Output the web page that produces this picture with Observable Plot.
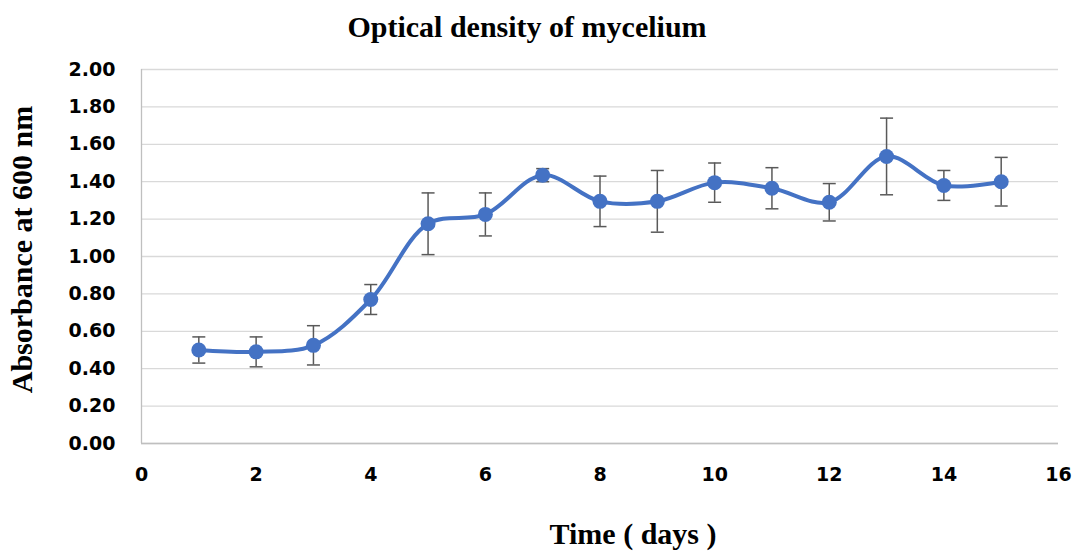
<!DOCTYPE html>
<html>
<head>
<meta charset="utf-8">
<script src="https://cdn.jsdelivr.net/npm/d3@7"></script>
<script src="https://cdn.jsdelivr.net/npm/@observablehq/plot@0.6"></script>
<style>
  body { margin: 0; background: #fff; }
  #wrap { width: 1079px; height: 552px; position: relative; overflow: hidden; }
  #title { width: 1054px; height: 48px; padding-top: 2px; text-align: center;
           font: bold 30px "Liberation Serif", "Times New Roman", serif; line-height: 50px; color: #000; }
</style>
</head>
<body>
<div id="wrap">
  <div id="title">Optical density of mycelium</div>
  <div id="chart"></div>
</div>
<script>
const days  = [1, 2, 3, 4, 5, 6, 7, 8, 9, 10, 11, 12, 13, 14, 15];
const means = [0.50, 0.49, 0.525, 0.77, 1.175, 1.225, 1.435, 1.295, 1.295, 1.395, 1.365, 1.29, 1.535, 1.38, 1.40];
const errs  = [0.07, 0.08, 0.105, 0.08, 0.165, 0.115, 0.035, 0.135, 0.165, 0.105, 0.11, 0.10, 0.205, 0.08, 0.13];
const xTicks = [0, 2, 4, 6, 8, 10, 12, 14, 16];
const yTicks = [0, 0.2, 0.4, 0.6, 0.8, 1.0, 1.2, 1.4, 1.6, 1.8, 2.0];
const xLabel = "Time ( days )";
const yLabel = "Absorbance at 600 nm";

const data = days.map((d, i) => ({day: d, mean: means[i], lo: means[i] - errs[i], hi: means[i] + errs[i]}));

const cap = { draw(context, size) { context.moveTo(-6.5, 0); context.lineTo(6.5, 0); } };
const blue = "#4472C4";
const tickFont = {fontSize: 19, fontWeight: "bold", fontFamily: "DejaVu Sans", fill: "#000"};
const serif = "Liberation Serif";

const chart = Plot.plot({
  width: 1079,
  height: 502,
  marginLeft: 141,
  marginRight: 21,
  marginTop: 19,
  marginBottom: 109,
  style: {background: "#fff", overflow: "visible"},
  x: {domain: [0, 16]},
  y: {domain: [0, 2]},
  marks: [
    Plot.gridY(yTicks, {stroke: "#d9d9d9", strokeOpacity: 1, strokeWidth: 1.3}),
    Plot.ruleX([0], {stroke: "#bfbfbf", strokeWidth: 1.3}),
    Plot.ruleY([0], {stroke: "#bfbfbf", strokeWidth: 1.3}),
    Plot.axisY(yTicks, {tickSize: 0, tickPadding: 26, tickFormat: d3.format(".2f"), label: null, ...tickFont}),
    Plot.axisX(xTicks, {tickSize: 0, tickPadding: 24, label: null, ...tickFont}),
    Plot.ruleX(data, {x: "day", y1: "lo", y2: "hi", stroke: "#595959", strokeWidth: 1.5}),
    Plot.dot(data, {x: "day", y: "hi", symbol: cap, fill: "none", stroke: "#595959", strokeWidth: 1.5}),
    Plot.dot(data, {x: "day", y: "lo", symbol: cap, fill: "none", stroke: "#595959", strokeWidth: 1.5}),
    Plot.line(data, {x: "day", y: "mean", curve: "catmull-rom", stroke: blue, strokeWidth: 4}),
    Plot.dot(data, {x: "day", y: "mean", r: 7.5, fill: blue, stroke: blue, strokeWidth: 0}),
    Plot.text([xLabel], {frameAnchor: "bottom", dx: 33, dy: 100, lineAnchor: "bottom", fontSize: 30, fontWeight: "bold", fontFamily: serif, fill: "#000"}),
    Plot.text([yLabel], {frameAnchor: "left", textAnchor: "middle", dx: -119, dy: -7, rotate: -90, lineAnchor: "middle", fontSize: 30, fontWeight: "bold", fontFamily: serif, fill: "#000"})
  ]
});
document.getElementById("chart").appendChild(chart);
</script>
</body>
</html>
